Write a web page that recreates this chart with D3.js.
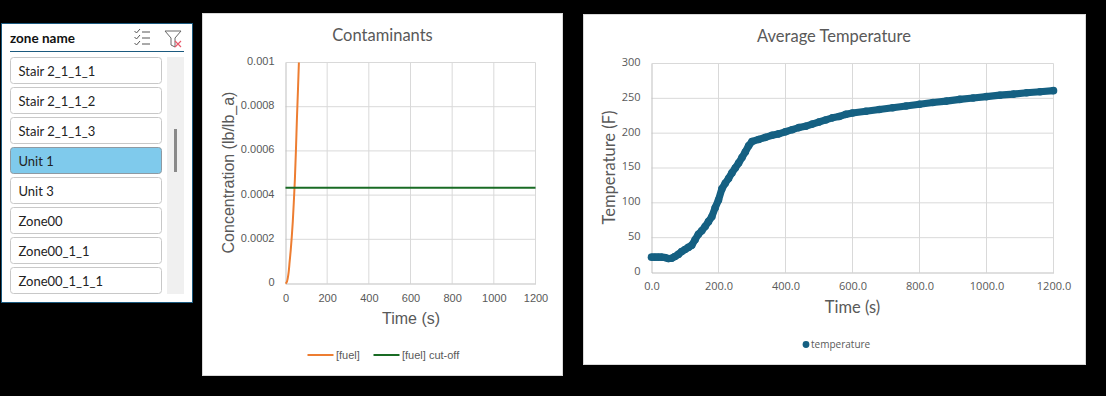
<!DOCTYPE html>
<html>
<head>
<meta charset="utf-8">
<script src="https://cdn.jsdelivr.net/npm/d3@7"></script>
<style>
  html, body { margin: 0; padding: 0; background: #000; overflow: hidden; }
  svg { display: block; }
  text { fill: #595959; }
</style>
</head>
<body>
<script>
// Slicer entries
const zoneNames = ["Stair 2_1_1_1", "Stair 2_1_1_2", "Stair 2_1_1_3", "Unit 1", "Unit 3", "Zone00", "Zone00_1_1", "Zone00_1_1_1"];
const selectedZone = "Unit 1";

// Contaminants chart
const fuelTime = [0, 5, 10, 15, 20, 25, 30, 35, 40, 45, 50, 55, 60, 65, 70];
const fuelValues = [0, 0.000004, 0.00002, 0.00005, 0.0001, 0.00015, 0.00021, 0.00028, 0.00037, 0.00047, 0.0006, 0.00075, 0.00088, 0.00102, 0.00118];
const cutoffTime = [0, 1200];
const cutoffValues = [0.000433, 0.000433];
const contamXTicks = [0, 200, 400, 600, 800, 1000, 1200];
const contamYTicks = [0, 0.0002, 0.0004, 0.0006, 0.0008, 0.001];

// Average temperature chart
const tempTime = [0, 10, 20, 30, 40, 50, 60, 70, 80, 90, 100, 110, 120, 130, 140, 150, 160, 170, 180, 190,
  200, 210, 220, 230, 240, 250, 260, 270, 280, 290, 300, 320, 340, 360, 380, 400, 420, 440, 460, 480,
  500, 520, 540, 560, 580, 600, 640, 680, 720, 760, 800, 840, 880, 920, 960, 1000, 1040, 1080, 1120, 1160, 1200];
const tempValues = [22, 22, 22, 22, 21.5, 20, 20.5, 23, 26, 30, 33, 36, 39, 47, 55, 60, 66, 73, 80, 93,
  104, 120, 128, 135, 143, 150, 157, 165, 173, 182, 188, 191, 194, 197, 199, 202, 205, 208, 210, 213,
  216, 219, 222, 224, 227, 229, 231.5, 234, 236.5, 239, 241.5, 244, 246, 248.5, 250.5, 252.5, 254.5, 256, 258, 259.5, 261];
const tempXTicks = [0, 200, 400, 600, 800, 1000, 1200];
const tempYTicks = [0, 50, 100, 150, 200, 250, 300];

const svg = d3.select("body").append("svg").attr("width", 1106).attr("height", 396);
svg.append("rect").attr("width", 1106).attr("height", 396).attr("fill", "#000");

// ---- slicer panel ----
function drawSlicer() {
  const g = svg.append("g").attr("font-family", "Lato, sans-serif");
  g.append("rect").attr("x", 1.5).attr("y", 23.5).attr("width", 191).attr("height", 279)
    .attr("fill", "#fff").attr("stroke", "#1b5a7f");
  g.append("text").attr("x", 10).attr("y", 43).attr("font-size", 13.5).attr("font-weight", 700)
    .style("fill", "#111").text("zone name");
  g.append("line").attr("x1", 10).attr("x2", 184).attr("y1", 51.5).attr("y2", 51.5).attr("stroke", "#1b5a7f");

  // multi-select icon
  const icon = g.append("g").attr("fill", "none").attr("stroke", "#555").attr("stroke-width", 1);
  [32, 38, 44].forEach(y => {
    icon.append("path").attr("d", `M134.5 ${y - 1}l2 2l3.5 -4`);
    icon.append("line").attr("x1", 142).attr("x2", 150).attr("y1", y).attr("y2", y);
  });
  // clear filter icon
  g.append("path").attr("d", "M165 31H181L175 38V47L171 45V38Z").attr("fill", "none").attr("stroke", "#666");
  g.append("path").attr("d", "M175 41L181 47M181 41L175 47").attr("stroke", "#e8596a").attr("stroke-width", 1.2);

  const rowY = d3.scalePoint().domain(zoneNames).range([57, 267]);
  const rows = g.selectAll("g.row").data(zoneNames).join("g").attr("class", "row")
    .attr("transform", d => `translate(10.5,${rowY(d) + 0.5})`);
  rows.append("rect").attr("width", 151).attr("height", 26).attr("rx", 3)
    .attr("fill", d => d === selectedZone ? "#7fcaec" : "#fff")
    .attr("stroke", d => d === selectedZone ? "#8d9aa3" : "#c8c8c8");
  rows.append("text").attr("x", 8).attr("y", 18).attr("font-size", 13).style("fill", "#222").text(d => d);

  // scrollbar
  g.append("rect").attr("x", 167).attr("y", 57).attr("width", 17).attr("height", 237).attr("fill", "#f0f0f0");
  g.append("rect").attr("x", 174).attr("y", 129).attr("width", 3).attr("height", 43).attr("fill", "#8a8a8a");
}

// Shared grid and axes for the two charts
function drawFrame(g, x, y, xTicks, yTicks, xFormat, yFormat, w, h, font, xPad) {
  g.append("g").selectAll("line").data(yTicks.slice(1)).join("line")
    .attr("x1", 0).attr("x2", w).attr("y1", d => y(d)).attr("y2", d => y(d))
    .attr("stroke", "#d9d9d9").attr("stroke-width", 1);
  g.append("g").selectAll("line").data(xTicks.slice(1)).join("line")
    .attr("y1", 0).attr("y2", h).attr("x1", d => x(d)).attr("x2", d => x(d))
    .attr("stroke", "#d9d9d9").attr("stroke-width", 1);

  const xAxis = g.append("g").attr("transform", `translate(0,${h})`)
    .call(d3.axisBottom(x).tickValues(xTicks).tickFormat(xFormat).tickSize(0).tickPadding(xPad));
  const yAxis = g.append("g")
    .call(d3.axisLeft(y).tickValues(yTicks).tickFormat(yFormat).tickSize(0).tickPadding(11));
  [xAxis, yAxis].forEach(a => {
    a.select(".domain").attr("stroke", "#bfbfbf");
    a.selectAll("text").attr("font-family", font).attr("font-size", 11).style("fill", "#595959");
  });
  yAxis.selectAll(".tick text").attr("dy", "0.18em");
}

// ---- contaminants chart ----
function drawContaminants() {
  const left = 285.5, top = 62.5, w = 250, h = 221;
  const font = "'Liberation Sans', Arial, sans-serif";
  svg.append("rect").attr("x", 202.5).attr("y", 13.5).attr("width", 360).attr("height", 362)
    .attr("fill", "#fff").attr("stroke", "#d9d9d9");
  const g = svg.append("g").attr("transform", `translate(${left},${top})`);
  const x = d3.scaleLinear().domain([0, 1200]).range([0, w]);
  const y = d3.scaleLinear().domain([0, 0.001]).range([h, 0]);
  drawFrame(g, x, y, contamXTicks, contamYTicks, d3.format("d"), d => d === 0 ? "0" : d3.format(".4~f")(d), w, h, font, 11);

  svg.append("clipPath").attr("id", "contam-clip").append("rect")
    .attr("x", -2).attr("y", 0).attr("width", w + 4).attr("height", h + 2);
  const line = d3.line().x(d => x(d[0])).y(d => y(d[1]));
  g.append("path").datum(d3.zip(fuelTime, fuelValues)).attr("d", line.curve(d3.curveMonotoneX))
    .attr("clip-path", "url(#contam-clip)")
    .attr("fill", "none").attr("stroke", "#ed7d31").attr("stroke-width", 2);
  g.append("path").datum(d3.zip(cutoffTime, cutoffValues)).attr("d", d3.line().x(d => x(d[0])).y(d => y(d[1])))
    .attr("fill", "none").attr("stroke", "#196b24").attr("stroke-width", 2);

  svg.append("text").attr("x", 382.5).attr("y", 41).attr("text-anchor", "middle")
    .attr("font-family", "Lato, sans-serif").attr("font-size", 16.5).text("Contaminants");
  svg.append("text").attr("x", 411).attr("y", 324).attr("text-anchor", "middle")
    .attr("font-family", font).attr("font-size", 16).text("Time (s)");
  svg.append("text").attr("transform", "translate(234,172.5) rotate(-90)").attr("text-anchor", "middle")
    .attr("font-family", font).attr("font-size", 16).text("Concentration (lb/lb_a)");

  // legend
  const legend = [["[fuel]", "#ed7d31", 307.5, 336], ["[fuel] cut-off", "#196b24", 373.5, 402]];
  legend.forEach(([label, colour, x1, tx]) => {
    svg.append("line").attr("x1", x1).attr("x2", x1 + 26).attr("y1", 355).attr("y2", 355)
      .attr("stroke", colour).attr("stroke-width", 2);
    svg.append("text").attr("x", tx).attr("y", 359).attr("font-family", font).attr("font-size", 11).text(label);
  });
}

// ---- temperature chart ----
function drawTemperature() {
  const left = 651.5, top = 63.5, w = 402, h = 209;
  const font = "Lato, sans-serif";
  svg.append("rect").attr("x", 583.5).attr("y", 14.5).attr("width", 502).attr("height", 350)
    .attr("fill", "#fff").attr("stroke", "#d9d9d9");
  const g = svg.append("g").attr("transform", `translate(${left},${top})`);
  const x = d3.scaleLinear().domain([0, 1200]).range([0, w]);
  const y = d3.scaleLinear().domain([0, 300]).range([h, 0]);
  drawFrame(g, x, y, tempXTicks, tempYTicks, d3.format(".1f"), d3.format("d"), w, h, "'Open Sans', sans-serif", 10);

  const points = d3.zip(tempTime, tempValues);
  g.append("path").datum(points).attr("d", d3.line().x(d => x(d[0])).y(d => y(d[1])))
    .attr("fill", "none").attr("stroke", "#156082").attr("stroke-width", 7.2).attr("stroke-linejoin", "round");
  g.append("g").selectAll("circle").data(points).join("circle")
    .attr("cx", d => x(d[0])).attr("cy", d => y(d[1])).attr("r", 3.8).attr("fill", "#156082");

  svg.append("text").attr("x", 834).attr("y", 42).attr("text-anchor", "middle")
    .attr("font-family", font).attr("font-size", 16.5).text("Average Temperature");
  svg.append("text").attr("x", 852.5).attr("y", 312.5).attr("text-anchor", "middle")
    .attr("font-family", font).attr("font-size", 16.5).text("Time (s)");
  svg.append("text").attr("transform", "translate(615,167.5) rotate(-90)").attr("text-anchor", "middle")
    .attr("font-family", font).attr("font-size", 16.5).text("Temperature (F)");

  svg.append("circle").attr("cx", 806).attr("cy", 344.5).attr("r", 3.4).attr("fill", "#156082");
  svg.append("text").attr("x", 811).attr("y", 348).attr("font-family", "'Open Sans', sans-serif").attr("font-size", 10).text("temperature");
}

drawSlicer();
drawContaminants();
drawTemperature();
</script>
</body>
</html>
